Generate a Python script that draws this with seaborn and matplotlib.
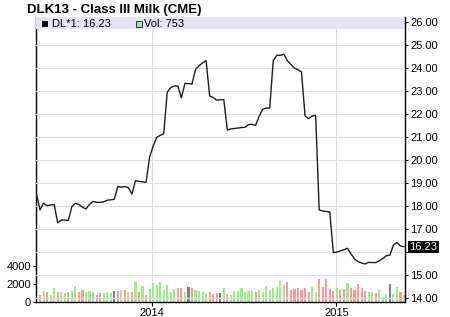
import numpy as np
import pandas as pd
import matplotlib
matplotlib.use("Agg")
import matplotlib.pyplot as plt
import matplotlib.dates as mdates
from matplotlib.patches import Rectangle
import seaborn as sns

# ---------------- data ----------------
title = "DLK13 - Class III Milk (CME)"
first_date = "2013-05-17"          # weekly closes
price = [18.52, 17.83, 18.12, 18.01, 18.05, 18.06, 17.27, 17.39, 17.39, 17.37,
         17.97, 18.12, 18.06, 17.95, 17.87, 18.07, 18.20, 18.16, 18.16, 18.18,
         18.25, 18.27, 18.29, 18.84, 18.82, 18.84, 18.80, 18.52, 19.10, 19.07,
         19.05, 19.03, 20.12, 20.60, 20.98, 21.07, 21.14, 22.95, 23.15, 23.22,
         23.22, 22.70, 23.33, 23.32, 23.30, 23.94, 24.10, 24.22, 24.32, 22.78,
         22.72, 22.60, 22.62, 22.63, 21.30, 21.35, 21.37, 21.39, 21.41, 21.42,
         21.54, 21.55, 21.50, 21.90, 22.20, 22.26, 22.26, 24.32, 24.55, 24.55,
         24.60, 24.32, 24.15, 24.00, 23.92, 23.83, 21.91, 21.80, 21.91, 21.94,
         17.83, 17.78, 17.76, 17.74, 15.97, 16.00, 16.05, 16.10, 16.16, 15.92,
         15.70, 15.58, 15.52, 15.48, 15.55, 15.54, 15.54, 15.62, 15.72, 15.84,
         15.86, 16.30, 16.42, 16.26, 16.23]
# volume for weeks 2..105 (first visible bar is the 2nd week)
volume = [785, 1210, 1070, 785, 1500, 1070, 1070, 1000, 1140, 1210,
          1710, 1100, 1320, 1070, 1210, 1070, 785, 1000, 1000, 1070,
          1000, 1210, 1210, 1290, 1320, 1140, 1100, 2180, 1100, 1750,
          785, 1430, 2040, 1860, 2180, 1320, 1860, 1100, 1430, 1500,
          1500, 1100, 1640, 1540, 1290, 1210, 1070, 1000, 1100, 930,
          1000, 1000, 1500, 890, 785, 1210, 1210, 1500, 1140, 1210,
          1210, 1140, 1320, 1140, 1750, 1320, 1570, 1640, 2290, 1860,
          2180, 1320, 1430, 1540, 1320, 1540, 1140, 1640, 1070, 2500,
          1640, 2500, 1430, 1210, 1500, 1320, 1430, 2070, 1540, 1320,
          1960, 1500, 1210, 1140, 1140, 1000, 1320, 570, 890, 1960,
          890, 1600, 1100, 753]
vol_dir = ['d', 'u', 'd', 'u', 'u', 'd', 'u', 'u', 'd', 'u',
           'u', 'd', 'd', 'u', 'u', 'u', 'd', 'd', 'u', 'u',
           'u', 'f', 'd', 'u', 'd', 'u', 'd', 'u', 'd', 'u',
           'd', 'u', 'u', 'u', 'u', 'u', 'u', 'u', 'u', 'd',
           'd', 'u', 'f', 'd', 'u', 'u', 'u', 'u', 'd', 'd',
           'd', 'f', 'u', 'd', 'u', 'u', 'u', 'u', 'u', 'u',
           'u', 'd', 'u', 'u', 'u', 'u', 'u', 'u', 'u', 'u',
           'd', 'd', 'd', 'd', 'd', 'd', 'd', 'u', 'u', 'd',
           'd', 'd', 'd', 'd', 'u', 'd', 'd', 'u', 'd', 'd',
           'd', 'd', 'd', 'u', 'u', 'd', 'u', 'u', 'u', 'f',
           'u', 'u', 'd', 'u']
price_ticks = [14, 15, 16, 17, 18, 19, 20, 21, 22, 23, 24, 25, 26]
vol_ticks = [0, 2000, 4000]
x_range = ("2013-05-16", "2015-05-17")

# ---------------- style ----------------
sns.set_style("ticks")
plt.rcParams["font.family"] = ["Liberation Sans", "DejaVu Sans"]

dates = pd.date_range(first_date, periods=len(price), freq="7D")
pnum = mdates.date2num(dates)
vdf = pd.DataFrame({"x": pnum[1:], "vol": volume, "dir": vol_dir})
pdf = pd.DataFrame({"x": pnum, "price": price})

W, H = 450, 317
fig = plt.figure(figsize=(W / 100, H / 100), dpi=100)
left_px, right_px, top_px, bot_px = 36, 405, 17, 302
axv = fig.add_axes([left_px / W, 1 - bot_px / H,
                    (right_px - left_px) / W, (bot_px - top_px) / H])
axp = axv.twinx()

grid_c = "#dcdcdc"
palette = {"u": "#99ee88", "d": "#ff9999", "f": "#808080"}

sns.barplot(data=vdf, x="x", y="vol", hue="dir", palette=palette,
            native_scale=True, dodge=False, width=0.6, errorbar=None,
            legend=False, ax=axv, saturation=1, linewidth=0, zorder=2)
sns.lineplot(data=pdf, x="x", y="price", ax=axp, color="#1e1e1e",
             linewidth=1.0, estimator=None, zorder=3)

xl = mdates.date2num(pd.to_datetime(list(x_range)))
axv.set_xlim(xl[0], xl[1])
axv.set_ylim(0, 31400)
axp.set_ylim(13.826, 26.217)

# x axis
axv.xaxis.set_major_locator(mdates.YearLocator())
axv.xaxis.set_major_formatter(mdates.DateFormatter("%Y"))
axv.xaxis.grid(True, color=grid_c, lw=0.8)
axv.set_axisbelow(True)
axv.tick_params(axis="x", length=3, width=0.8, pad=1.5, labelsize=8,
                colors="black")

# volume axis (left)
axv.set_yticks(vol_ticks)
axv.set_yticklabels([str(v) for v in vol_ticks])
axv.tick_params(axis="y", left=True, labelleft=True, length=2, width=0.8,
                pad=1.5, labelsize=8, colors="black")

# price axis (right)
last = price[-1]
axp.set_yticks(price_ticks)
axp.set_yticklabels(["" if abs(t - last) < 0.5 else f"{t:.2f}"
                     for t in price_ticks])
axp.tick_params(axis="y", right=True, labelright=True, left=False,
                labelleft=False, length=2.5, width=0.8, pad=1.5,
                labelsize=8, colors="black")
axp.yaxis.grid(True, color=grid_c, lw=0.8)
axp.set_axisbelow(True)

for ax in (axv, axp):
    ax.set_xlabel("")
    ax.set_ylabel("")
    for s in ax.spines.values():
        s.set_visible(False)
axv.spines["left"].set_visible(True)
axv.spines["bottom"].set_visible(True)
axp.spines["right"].set_visible(True)
for s in (axv.spines["left"], axv.spines["bottom"], axp.spines["right"]):
    s.set_color("black")
    s.set_linewidth(1.0)

# legend band at top of plot
band_h = 12 / (bot_px - top_px)
axp.add_patch(Rectangle((0, 1 - band_h), 1, band_h, transform=axp.transAxes,
                        facecolor="#e4e4f8", edgecolor="none", zorder=0.7))

def px(x, y):
    return x / W, 1 - y / H

fig.patches.append(Rectangle(px(42, 26.5), 6 / W, 6 / H,
                             transform=fig.transFigure, facecolor="black",
                             edgecolor="none"))
fig.patches.append(Rectangle(px(135.5, 26.5), 6 / W, 6 / H,
                             transform=fig.transFigure, facecolor=palette["u"],
                             edgecolor="#333333", linewidth=0.7))
fig.text(*px(52.5, 23.8), f"DL*1: {last:.2f}", fontsize=8, va="center",
         ha="left", color="black")
fig.text(*px(144.5, 23.8), f"Vol: {volume[-1]}", fontsize=8, va="center",
         ha="left", color="black")

# title
fig.text(*px(27, 10), title, fontsize=9.5, fontweight="bold", va="center",
         ha="left", color="black")

# last price label
axp.annotate(f"{last:.2f}", xy=(1, last), xycoords=axp.get_yaxis_transform(),
             xytext=(3.3, 0), textcoords="offset points", ha="left",
             va="center", color="white", fontsize=8,
             bbox=dict(boxstyle="square,pad=0.1", fc="black", ec="none"),
             annotation_clip=False, zorder=5)

fig.savefig("out.png", dpi=100, facecolor="white")
